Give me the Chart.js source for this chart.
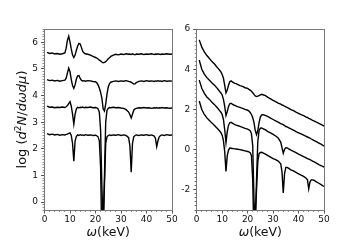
<!DOCTYPE html>
<html>
<head>
<meta charset="utf-8">
<script src="https://cdn.jsdelivr.net/npm/chart.js@4/dist/chart.umd.min.js"></script>
<style>
  body { margin: 0; background: #fff; }
  #wrap { position: relative; width: 360px; height: 240px; }
  canvas { position: absolute; top: 0; }
  #left { left: 0; }
  #right { left: 180px; }
</style>
</head>
<body>
<div id="wrap">
  <canvas id="left" width="180" height="240"></canvas>
  <canvas id="right" width="180" height="240"></canvas>
</div>
<script>
// photon energy grid (keV), shared by every spectrum
const energy = [
  1, 2, 3, 4, 5, 6, 7, 8, 8.5, 9,
  9.5, 10, 10.5, 11, 11.5, 12, 12.5, 13, 13.5, 14,
  14.5, 15, 15.5, 16, 17, 18, 19, 20, 20.5, 21,
  21.5, 22, 22.5, 23, 23.5, 24, 24.5, 25, 25.5, 26,
  27, 28, 29, 30, 31, 32, 33, 33.5, 34, 34.5,
  35, 35.5, 36, 37, 38, 39, 40, 41, 42, 43,
  43.5, 44, 44.5, 45, 45.5, 46, 47, 48, 49, 50
];

// left panel: shifted spectra
const leftA = [
  5.62, 5.58, 5.60, 5.56, 5.58, 5.55, 5.57, 5.60, 5.78, 6.08,
  6.23, 6.02, 5.75, 5.52, 5.43, 5.52, 5.70, 5.86, 5.96, 5.94,
  5.80, 5.66, 5.60, 5.57, 5.55, 5.52, 5.47, 5.43, 5.41, 5.37,
  5.33, 5.30, 5.26, 5.23, 5.25, 5.27, 5.32, 5.38, 5.42, 5.47,
  5.52, 5.55, 5.53, 5.56, 5.54, 5.57, 5.55, 5.56, 5.54, 5.57,
  5.55, 5.53, 5.56, 5.55, 5.57, 5.54, 5.56, 5.55, 5.57, 5.54,
  5.56, 5.55, 5.57, 5.55, 5.54, 5.56, 5.55, 5.57, 5.55, 5.56
];
const leftB = [
  4.60, 4.56, 4.58, 4.55, 4.57, 4.54, 4.56, 4.58, 4.65, 4.85,
  5.03, 4.90, 4.60, 4.38, 4.27, 4.40, 4.62, 4.74, 4.75, 4.64,
  4.57, 4.55, 4.56, 4.54, 4.56, 4.55, 4.53, 4.52, 4.48, 4.40,
  4.28, 4.12, 3.90, 3.50, 3.42, 3.68, 4.05, 4.32, 4.45, 4.50,
  4.53, 4.55, 4.53, 4.55, 4.54, 4.56, 4.53, 4.52, 4.50, 4.47,
  4.43, 4.44, 4.49, 4.53, 4.55, 4.53, 4.56, 4.54, 4.55, 4.53,
  4.55, 4.54, 4.56, 4.54, 4.55, 4.53, 4.56, 4.54, 4.55, 4.54
];
const leftC = [
  3.60, 3.56, 3.57, 3.54, 3.56, 3.55, 3.57, 3.55, 3.58, 3.62,
  3.70, 3.77, 3.60, 3.30, 2.93, 3.30, 3.50, 3.56, 3.54, 3.56,
  3.55, 3.57, 3.54, 3.56, 3.55, 3.57, 3.54, 3.55, 3.54, 3.50,
  3.38, 2.70, 0.60, -0.90, 0.90, 3.00, 3.44, 3.52, 3.55, 3.54,
  3.56, 3.54, 3.55, 3.53, 3.52, 3.47, 3.38, 3.28, 3.16, 3.30,
  3.45, 3.50, 3.52, 3.54, 3.53, 3.55, 3.53, 3.54, 3.52, 3.54,
  3.53, 3.55, 3.52, 3.54, 3.53, 3.55, 3.53, 3.54, 3.52, 3.53
];
const leftD = [
  2.57, 2.53, 2.55, 2.52, 2.54, 2.51, 2.53, 2.52, 2.54, 2.55,
  2.58, 2.60, 2.50, 2.20, 1.53, 2.30, 2.47, 2.52, 2.50, 2.53,
  2.51, 2.52, 2.50, 2.53, 2.51, 2.52, 2.50, 2.51, 2.49, 2.45,
  2.30, 1.30, -1.60, -1.20, 0.60, 2.20, 2.45, 2.50, 2.52, 2.50,
  2.52, 2.51, 2.53, 2.50, 2.52, 2.50, 2.42, 2.10, 1.12, 2.20,
  2.45, 2.50, 2.52, 2.50, 2.52, 2.51, 2.53, 2.50, 2.52, 2.48,
  2.40, 2.08, 2.30, 2.45, 2.50, 2.52, 2.50, 2.53, 2.51, 2.52
];

// right panel: raw spectra
const rightA = [
  5.46, 5.10, 4.86, 4.68, 4.53, 4.38, 4.26, 4.10, 4.03, 3.95,
  3.87, 3.74, 3.55, 3.20, 2.82, 2.96, 3.20, 3.38, 3.42, 3.37,
  3.33, 3.30, 3.28, 3.25, 3.18, 3.15, 3.08, 3.05, 3.00, 2.96,
  2.90, 2.83, 2.75, 2.67, 2.64, 2.66, 2.69, 2.72, 2.75, 2.73,
  2.69, 2.60, 2.53, 2.45, 2.39, 2.32, 2.26, 2.22, 2.20, 2.16,
  2.13, 2.10, 2.07, 1.99, 1.94, 1.87, 1.81, 1.74, 1.69, 1.62,
  1.60, 1.56, 1.53, 1.50, 1.46, 1.43, 1.37, 1.31, 1.24, 1.17
];
const rightB = [
  4.45, 4.00, 3.76, 3.58, 3.45, 3.32, 3.20, 3.06, 2.98, 2.90,
  2.82, 2.72, 2.50, 2.15, 1.70, 1.90, 2.15, 2.28, 2.31, 2.26,
  2.22, 2.20, 2.17, 2.14, 2.10, 2.05, 2.00, 1.96, 1.92, 1.85,
  1.75, 1.60, 1.35, 0.95, 0.75, 0.95, 1.35, 1.62, 1.73, 1.74,
  1.70, 1.64, 1.57, 1.50, 1.43, 1.37, 1.30, 1.27, 1.24, 1.20,
  1.15, 1.13, 1.10, 1.03, 0.97, 0.90, 0.84, 0.78, 0.72, 0.66,
  0.63, 0.60, 0.57, 0.53, 0.50, 0.46, 0.40, 0.33, 0.26, 0.18
];
const rightC = [
  3.46, 3.05, 2.80, 2.62, 2.50, 2.36, 2.24, 2.10, 2.02, 1.94,
  1.86, 1.75, 1.50, 1.00, 0.35, 0.90, 1.22, 1.34, 1.36, 1.32,
  1.28, 1.25, 1.22, 1.20, 1.16, 1.11, 1.06, 1.02, 0.99, 0.94,
  0.80, 0.20, -2.50, -3.60, -1.50, 0.40, 0.95, 1.07, 1.08, 1.05,
  0.98, 0.90, 0.83, 0.76, 0.68, 0.58, 0.38, 0.10, -0.18, 0.02,
  0.10, 0.09, 0.05, -0.02, -0.08, -0.15, -0.22, -0.28, -0.35, -0.41,
  -0.44, -0.47, -0.50, -0.53, -0.57, -0.60, -0.67, -0.74, -0.80, -0.87
];
const rightD = [
  2.42, 2.00, 1.75, 1.58, 1.45, 1.32, 1.20, 1.07, 1.00, 0.93,
  0.85, 0.72, 0.45, -0.10, -1.08, -0.30, -0.02, 0.08, 0.07, 0.06,
  0.05, 0.04, 0.03, 0.02, 0.00, -0.03, -0.06, -0.09, -0.11, -0.15,
  -0.30, -1.50, -4.50, -3.50, -2.00, -0.60, -0.20, -0.14, -0.13, -0.16,
  -0.22, -0.30, -0.37, -0.44, -0.50, -0.57, -0.70, -1.10, -2.15, -1.20,
  -0.88, -0.88, -0.92, -1.00, -1.06, -1.13, -1.20, -1.27, -1.33, -1.42,
  -1.50, -1.95, -1.60, -1.50, -1.50, -1.52, -1.60, -1.67, -1.75, -1.83
];

// tick positions
const xTicks = [0, 10, 20, 30, 40, 50];
const yTicksLeft = [0, 1, 2, 3, 4, 5, 6];
const yTicksRight = [-2, 0, 2, 4, 6];

const FONT = '"DejaVu Sans", sans-serif';
Chart.defaults.font.family = FONT;
Chart.defaults.font.size = 9;

function steps(from, to, step) {
  const out = [];
  for (let i = 0; from + i * step <= to + 1e-9; i++) out.push(+(from + i * step).toFixed(3));
  return out;
}

function zeroPad(s) {
  s.paddingLeft = s.paddingRight = s.paddingTop = s.paddingBottom = 0;
}

function majorAxis(axis, position, min, max, ticks, size) {
  return {
    type: 'linear', axis, position, min, max, weight: 1,
    border: { display: false },
    grid: { drawOnChartArea: false, tickLength: 3.5, tickColor: '#333', tickWidth: 0.8 },
    ticks: { autoSkip: false, maxRotation: 0, padding: axis === 'x' ? 1 : 3, color: '#111',
             callback: v => String(v) },
    afterBuildTicks: s => { s.ticks = ticks.map(v => ({ value: v })); },
    afterFit: s => { if (axis === 'x') s.height = size; else s.width = size; zeroPad(s); }
  };
}

function minorAxis(axis, position, min, max, ticks) {
  return {
    type: 'linear', axis, position, min, max, weight: -1,
    border: { display: false },
    grid: { drawOnChartArea: false, tickLength: 2, tickColor: '#444', tickWidth: 0.6 },
    ticks: { display: false },
    afterBuildTicks: s => { s.ticks = ticks.map(v => ({ value: v })); },
    afterFit: s => { if (axis === 'x') s.height = 0; else s.width = 0; zeroPad(s); }
  };
}

function fontFor(p, size) {
  return (p.it ? 'italic ' : '') + (p.sup ? size * 0.7 : size) + 'px ' + FONT;
}
function richWidth(ctx, parts, size) {
  let w = 0;
  for (const p of parts) { ctx.font = fontFor(p, size); w += ctx.measureText(p.t).width; }
  return w;
}
function drawRich(ctx, parts, size, x, y) {
  for (const p of parts) {
    ctx.font = fontFor(p, size);
    ctx.fillText(p.t, x, p.sup ? y - size * 0.42 : y);
    x += ctx.measureText(p.t).width;
  }
}

const xTitle = [{ t: 'ω', it: true }, { t: '(keV)' }];
const yTitle = [{ t: 'log (' }, { t: 'd', it: true }, { t: '2', sup: true }, { t: 'N', it: true },
                { t: '/' }, { t: 'dωdμ', it: true }, { t: ')' }];

function decor(withYTitle) {
  return {
    id: 'decor',
    afterDraw(chart) {
      const { ctx, chartArea: a } = chart;
      ctx.save();
      ctx.strokeStyle = '#777';
      ctx.lineWidth = 1;
      const l = Math.floor(a.left) + 0.5, t = Math.floor(a.top) + 0.5;
      const r = Math.floor(a.right) + 0.5, b = Math.floor(a.bottom) + 0.5;
      ctx.strokeRect(l, t, r - l, b - t);
      ctx.fillStyle = '#111';
      ctx.textBaseline = 'alphabetic';
      ctx.textAlign = 'left';
      const xs = 12.5;
      const wx = richWidth(ctx, xTitle, xs);
      drawRich(ctx, xTitle, xs, (a.left + a.right) / 2 - wx / 2, 236);
      if (withYTitle) {
        const ys = 13;
        const wy = richWidth(ctx, yTitle, ys);
        ctx.translate(26, (a.top + a.bottom) / 2);
        ctx.rotate(-Math.PI / 2);
        drawRich(ctx, yTitle, ys, -wy / 2, 0);
      }
      ctx.restore();
    }
  };
}

const toPts = ys => energy.map((x, i) => ({ x, y: ys[i] }));
const lineSet = ys => ({
  data: toPts(ys), borderColor: '#000', borderWidth: 1.4, pointRadius: 0,
  tension: 0, fill: false, clip: 0, xAxisID: 'x', yAxisID: 'y'
});

function makeChart(id, series, yMin, yMax, yTicks, yMinorStep, yAxisWidth, rightPad, withYTitle) {
  return new Chart(document.getElementById(id), {
    type: 'line',
    data: { datasets: series.map(lineSet) },
    options: {
      responsive: false,
      animation: false,
      events: [],
      layout: { padding: { left: 0, top: 29, right: rightPad, bottom: 0 } },
      plugins: { legend: { display: false }, tooltip: { enabled: false } },
      scales: {
        x: majorAxis('x', 'bottom', 0, 50, xTicks, 30),
        xm: minorAxis('x', 'bottom', 0, 50, steps(0, 50, 2)),
        y: majorAxis('y', 'left', yMin, yMax, yTicks, yAxisWidth),
        ym: minorAxis('y', 'left', yMin, yMax, steps(Math.ceil(yMin), yMax, yMinorStep).concat(steps(yMin, 0, yMinorStep)))
      }
    },
    plugins: [decor(withYTitle)]
  });
}

makeChart('left', [leftA, leftB, leftC, leftD], -0.3, 6.5, yTicksLeft, 0.1, 44.5, 8, true);
makeChart('right', [rightA, rightB, rightC, rightD], -3, 6, yTicksRight, 0.2, 16.7, 36, false);
</script>
</body>
</html>
